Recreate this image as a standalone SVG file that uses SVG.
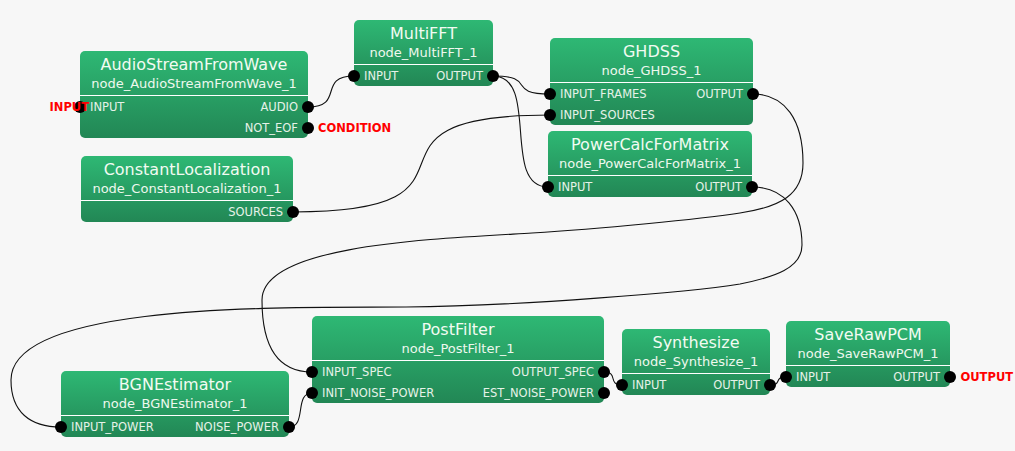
<svg xmlns="http://www.w3.org/2000/svg" width="1015" height="451" viewBox="0 0 1015 451">
<defs>
<linearGradient id="g" x1="0" y1="0" x2="0" y2="1">
<stop offset="0" stop-color="#2eb874"/>
<stop offset="1" stop-color="#228755"/>
</linearGradient>
<style>
.box{fill:url(#g);}
.sep{stroke:#ffffff;stroke-width:1;}
.t{font-family:"DejaVu Sans",Verdana,sans-serif;font-size:16px;fill:#f2fbf2;text-anchor:middle;}
.s{font-family:"DejaVu Sans",Verdana,sans-serif;font-size:13px;fill:#eef8ee;text-anchor:middle;}
.p{font-family:"DejaVu Sans",Verdana,sans-serif;font-size:11.5px;fill:#e6f2e8;}
.r{text-anchor:end;}
.port{fill:#000000;}
.ext{font-family:"DejaVu Sans",Verdana,sans-serif;font-size:11.5px;font-weight:bold;fill:#ff0000;}
.c{fill:none;stroke:#111111;stroke-width:1.1;}
</style>
</defs>
<rect x="0" y="0" width="1015" height="451" fill="#f7f7f7"/>

<g id="connectors">
<path class="c" d="M308,107 C345,107 317,76 354,76"/>
<path class="c" d="M493,76 C538,76 505,94 550,94"/>
<path class="c" d="M493,76 C540,76 501,187 548,187"/>
<path class="c" d="M293,212 C513,212 330,115 550,115"/>
<path class="c" d="M753,94 C785,94 803,120 803,163 C803,195 780,207 740,213 C700,219 600,229 532,233 C430,239 262,245 262,300 C262,350 280,372 312,372"/>
<path class="c" d="M752,187 C784,187 802,210 802,245 C802,268 775,277 740,284 C690,292 520,306 406,307 C300,308 11,300 11,380 C11,412 30,427 61,427"/>
<path class="c" d="M289,427 C307,427 294,393 312,393"/>
<path class="c" d="M604,372 C619,372 607,385 622,385"/>
<path class="c" d="M770,385 C783,385 773,377 786,377"/>
</g>

<g id="node_AudioStreamFromWave_1">
<rect class="box" x="80" y="51" width="228" height="87" rx="5"/>
<line class="sep" x1="80" y1="95.5" x2="308" y2="95.5"/>
<text class="t" x="194" y="70">AudioStreamFromWave</text>
<text class="s" x="194" y="88">node_AudioStreamFromWave_1</text>
<text class="p" x="90" y="111">INPUT</text>
<text class="p r" x="298" y="111">AUDIO</text>
<text class="p r" x="298" y="132">NOT_EOF</text>
<circle class="port" cx="80" cy="107" r="6"/>
<circle class="port" cx="308" cy="107" r="6"/>
<circle class="port" cx="308" cy="128" r="6"/>
<text class="ext" x="49.5" y="111">INPUT</text>
<text class="ext" x="318" y="132">CONDITION</text>
</g>

<g id="node_MultiFFT_1">
<rect class="box" x="354" y="20" width="139" height="66" rx="5"/>
<line class="sep" x1="354" y1="64.5" x2="493" y2="64.5"/>
<text class="t" x="423.5" y="39">MultiFFT</text>
<text class="s" x="423.5" y="57">node_MultiFFT_1</text>
<text class="p" x="364" y="80">INPUT</text>
<text class="p r" x="483" y="80">OUTPUT</text>
<circle class="port" cx="354" cy="76" r="6"/>
<circle class="port" cx="493" cy="76" r="6"/>
</g>

<g id="node_ConstantLocalization_1">
<rect class="box" x="81" y="156" width="212" height="66" rx="5"/>
<line class="sep" x1="81" y1="200.5" x2="293" y2="200.5"/>
<text class="t" x="187" y="175">ConstantLocalization</text>
<text class="s" x="187" y="193">node_ConstantLocalization_1</text>
<text class="p r" x="283" y="216">SOURCES</text>
<circle class="port" cx="293" cy="212" r="6"/>
</g>

<g id="node_GHDSS_1">
<rect class="box" x="550" y="38" width="203" height="87" rx="5"/>
<line class="sep" x1="550" y1="82.5" x2="753" y2="82.5"/>
<text class="t" x="651.5" y="57">GHDSS</text>
<text class="s" x="651.5" y="75">node_GHDSS_1</text>
<text class="p" x="560" y="98">INPUT_FRAMES</text>
<text class="p" x="560" y="119">INPUT_SOURCES</text>
<text class="p r" x="743" y="98">OUTPUT</text>
<circle class="port" cx="550" cy="94" r="6"/>
<circle class="port" cx="550" cy="115" r="6"/>
<circle class="port" cx="753" cy="94" r="6"/>
</g>

<g id="node_PowerCalcForMatrix_1">
<rect class="box" x="548" y="131" width="204" height="66" rx="5"/>
<line class="sep" x1="548" y1="175.5" x2="752" y2="175.5"/>
<text class="t" x="650" y="150">PowerCalcForMatrix</text>
<text class="s" x="650" y="168">node_PowerCalcForMatrix_1</text>
<text class="p" x="558" y="191">INPUT</text>
<text class="p r" x="742" y="191">OUTPUT</text>
<circle class="port" cx="548" cy="187" r="6"/>
<circle class="port" cx="752" cy="187" r="6"/>
</g>

<g id="node_PostFilter_1">
<rect class="box" x="312" y="316" width="292" height="87" rx="5"/>
<line class="sep" x1="312" y1="360.5" x2="604" y2="360.5"/>
<text class="t" x="458" y="335">PostFilter</text>
<text class="s" x="458" y="353">node_PostFilter_1</text>
<text class="p" x="322" y="376">INPUT_SPEC</text>
<text class="p" x="322" y="397">INIT_NOISE_POWER</text>
<text class="p r" x="594" y="376">OUTPUT_SPEC</text>
<text class="p r" x="594" y="397">EST_NOISE_POWER</text>
<circle class="port" cx="312" cy="372" r="6"/>
<circle class="port" cx="312" cy="393" r="6"/>
<circle class="port" cx="604" cy="372" r="6"/>
<circle class="port" cx="604" cy="393" r="6"/>
</g>

<g id="node_BGNEstimator_1">
<rect class="box" x="61" y="371" width="228" height="66" rx="5"/>
<line class="sep" x1="61" y1="415.5" x2="289" y2="415.5"/>
<text class="t" x="175" y="390">BGNEstimator</text>
<text class="s" x="175" y="408">node_BGNEstimator_1</text>
<text class="p" x="71" y="431">INPUT_POWER</text>
<text class="p r" x="279" y="431">NOISE_POWER</text>
<circle class="port" cx="61" cy="427" r="6"/>
<circle class="port" cx="289" cy="427" r="6"/>
</g>

<g id="node_Synthesize_1">
<rect class="box" x="622" y="329" width="148" height="66" rx="5"/>
<line class="sep" x1="622" y1="373.5" x2="770" y2="373.5"/>
<text class="t" x="696" y="348">Synthesize</text>
<text class="s" x="696" y="366">node_Synthesize_1</text>
<text class="p" x="632" y="389">INPUT</text>
<text class="p r" x="760" y="389">OUTPUT</text>
<circle class="port" cx="622" cy="385" r="6"/>
<circle class="port" cx="770" cy="385" r="6"/>
</g>

<g id="node_SaveRawPCM_1">
<rect class="box" x="786" y="321" width="164" height="66" rx="5"/>
<line class="sep" x1="786" y1="365.5" x2="950" y2="365.5"/>
<text class="t" x="868" y="340">SaveRawPCM</text>
<text class="s" x="868" y="358">node_SaveRawPCM_1</text>
<text class="p" x="796" y="381">INPUT</text>
<text class="p r" x="940" y="381">OUTPUT</text>
<circle class="port" cx="786" cy="377" r="6"/>
<circle class="port" cx="950" cy="377" r="6"/>
<text class="ext" x="960.5" y="381">OUTPUT</text>
</g>
</svg>
